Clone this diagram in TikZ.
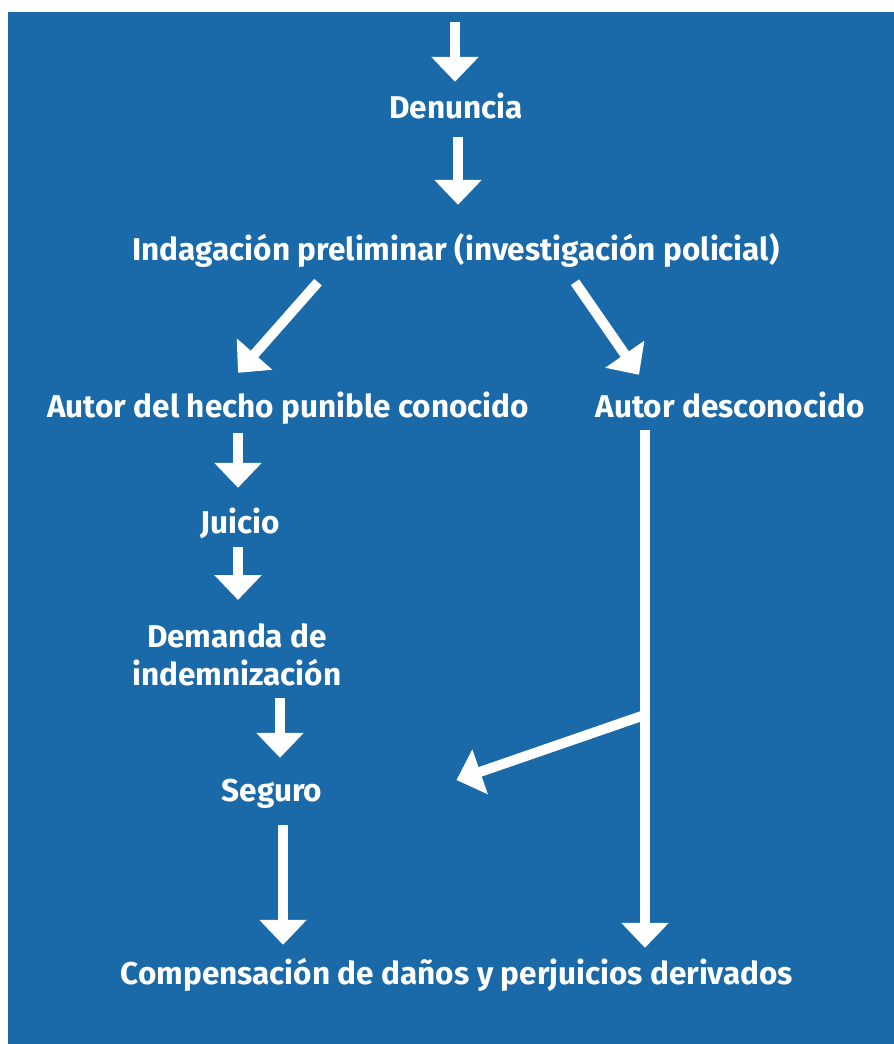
\documentclass[tikz,border=0pt]{standalone}
\usepackage{fontspec}
\setmainfont{Fira Sans}
\usetikzlibrary{arrows.meta}
\definecolor{fondo}{RGB}{26,105,168}

\begin{document}
\begin{tikzpicture}[x=1pt,y=-1pt,
    texto/.style={text=white, font=\fontsize{31.5}{38}\selectfont\bfseries, inner sep=0pt, anchor=base},
    paso/.style={texto, text height=20pt, text depth=0pt},
    flecha/.style={draw=white, line width=10pt, -{Triangle[width=46pt,length=25pt]}}]
  \useasboundingbox (0,0) rectangle (894,1044);
  \fill[fondo] (8,12) rectangle (894,1044);
  % pasos del proceso
  \node[paso] (denuncia) at (456,118) {Denuncia};
  \node[paso] (indag) at (456,260) {Indagación preliminar (investigación policial)};
  \node[paso] (conocido) at (288,417) {Autor del hecho punible conocido};
  \node[paso] (desconocido) at (730,417) {Autor desconocido};
  \node[paso] (juicio) at (240,533) {Juicio};
  \node[texto, align=center] (demanda) at (237,685) {Demanda de\\indemnización};
  \node[paso] (seguro) at (272,801) {Seguro};
  \node[paso] (compensa) at (457,984) {Compensación de daños y perjuicios derivados};
  \coordinate (inicio) at (455,22);
  % flechas
  \draw[flecha] (inicio) -- ([shift={(-1,-16)}]denuncia.north);
  \draw[flecha] ([shift={(2,19)}]denuncia.south) -- ([shift={(2,-35)}]indag.north);
  \draw[flecha] ([shift={(-138,22)}]indag.south) -- ([shift={(-50,-24)}]conocido.north);
  \draw[flecha] ([shift={(119,22)}]indag.south) -- ([shift={(-91,-22)}]desconocido.north);
  \draw[flecha] ([shift={(-50,16)}]conocido.south) -- ([shift={(-2,-25)}]juicio.north);
  \draw[flecha] ([shift={(-2,14)}]juicio.south) -- ([shift={(1,-85)}]demanda.base);
  \draw[flecha] ([shift={(43,13)}]demanda.base) -- ([shift={(8,-23)}]seguro.north);
  \draw[flecha] ([shift={(11,24)}]seguro.south) -- ([shift={(-174,-19)}]compensa.north);
  \draw[flecha] ([shift={(-85,13)}]desconocido.south) -- ([shift={(188,-16)}]compensa.north)
    coordinate[pos=0.55] (rama);
  \draw[flecha] (rama) -- ([shift={(134,-11)}]seguro.east);
\end{tikzpicture}
\end{document}
